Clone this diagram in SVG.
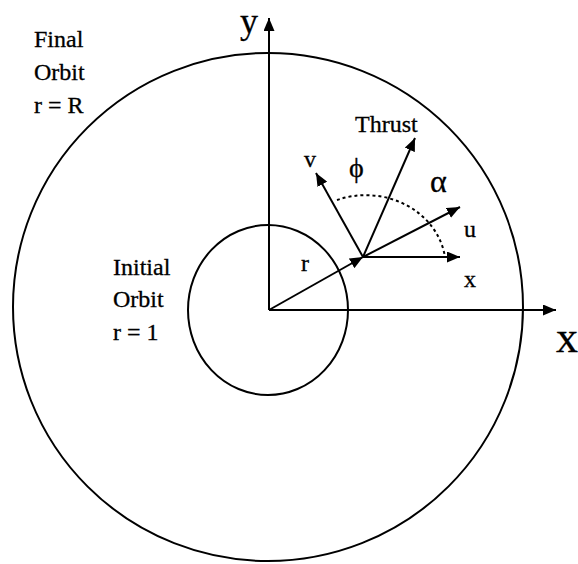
<svg xmlns="http://www.w3.org/2000/svg" width="578" height="564" viewBox="0 0 578 564">
<style>
.ln{stroke:#000;stroke-width:2;fill:none}
.ar{marker-end:url(#ah)}
.t{font-family:"Liberation Serif","Times New Roman",serif;fill:#000;font-size:24px;stroke:#000;stroke-width:0.3}
.dot{stroke:#000;stroke-width:2;fill:none;stroke-dasharray:3 3}
</style>
<defs>
<marker id="ah" markerUnits="userSpaceOnUse" markerWidth="13" markerHeight="11" refX="13" refY="5.5" orient="auto">
<path d="M0,0 L13,5.5 L0,11 z" fill="#000"/>
</marker>
</defs>
<rect width="578" height="564" fill="#fff"/>
<g id="final-orbit">
<ellipse class="ln" cx="268" cy="307" rx="255" ry="254"/>
<text class="t" x="34" y="47">Final</text>
<text class="t" x="34" y="80">Orbit</text>
<text class="t" x="34" y="113">r = R</text>
</g>
<g id="initial-orbit">
<ellipse class="ln" cx="268" cy="310" rx="80" ry="85"/>
<text class="t" x="113" y="275">Initial</text>
<text class="t" x="113" y="307">Orbit</text>
<text class="t" x="113" y="340">r = 1</text>
</g>
<g id="axes-labels">
<text class="t" x="240" y="33" style="font-size:36px">y</text>
<text class="t" x="556" y="352" style="font-size:44px">x</text>
</g>
<g id="connectors">
<line class="ln ar" x1="269" y1="310" x2="269" y2="18"/>
<line class="ln ar" x1="269" y1="310" x2="556" y2="310"/>
<line class="ln ar" x1="269" y1="310" x2="363" y2="257"/>
<line class="ln ar" x1="363" y1="257" x2="460" y2="207"/>
<line class="ln ar" x1="363" y1="257" x2="460" y2="257"/>
<line class="ln ar" x1="363" y1="257" x2="316" y2="173"/>
<line class="ln ar" x1="363" y1="257" x2="415" y2="138"/>
<path class="dot" d="M337,200 A80 72 0 0 1 445 257"/>
</g>
<g id="vector-labels">
<text class="t" x="355" y="132">Thrust</text>
<text class="t" x="304" y="167">v</text>
<text class="t" x="349" y="177" style="font-size:28px">ϕ</text>
<text class="t" x="430" y="192" style="font-size:32px">α</text>
<text class="t" x="464" y="237">u</text>
<text class="t" x="464" y="287">x</text>
<text class="t" x="301" y="271">r</text>
</g>
</svg>
